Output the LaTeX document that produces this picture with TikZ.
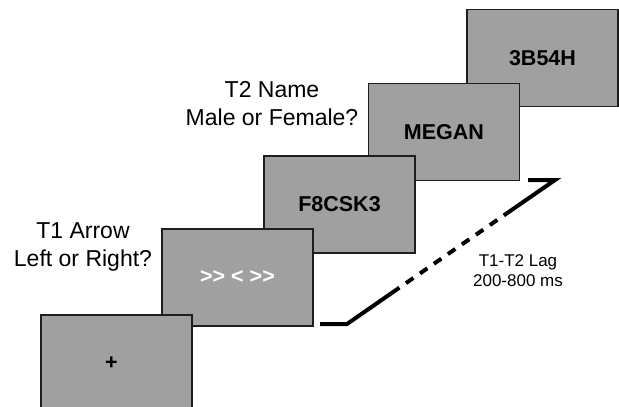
\documentclass[tikz,border=0pt]{standalone}
\usepackage{fontspec}
\setmainfont{Liberation Sans}
\definecolor{boxgray}{RGB}{160,160,160}
\definecolor{edgegray}{RGB}{30,30,30}
\tikzset{
  screen/.style={rectangle, draw=edgegray, line width=1.3pt, fill=boxgray,
    minimum width=151pt, minimum height=97pt, inner sep=0pt,
    font=\fontsize{21.5}{26}\selectfont\bfseries},
  cue/.style={align=center, inner sep=0pt, font=\fontsize{23}{28}\selectfont},
  lagtext/.style={align=center, inner sep=0pt, font=\fontsize{17}{20}\selectfont},
  lagline/.style={line width=4pt, black},
}
\begin{document}
\begin{tikzpicture}[x=1pt,y=-1pt]
\useasboundingbox (0,0) rectangle (619,407);
\clip (0,0) rectangle (619,407);
% screens, later ones behind earlier ones
\node[screen] (s5) at (542.5,58) {3B54H};
\node[screen] (s4) at (444,132) {MEGAN};
\node[screen] (s3) at (339.5,204.5) {F8CSK3};
\node[screen, text=white] (s2) at (237.5,277.5) {>{}> < >{}>};
\node[screen] (s1) at (116.5,363.5) {\kern-10pt+};
% labels
\node[cue] (t1) at (83,247) {T1 Arrow\\Left or Right?};
\node[cue] (t2) at (272,104) {T2 Name\\Male or Female?};
\node[lagtext] (lag) at (518,271) {T1-T2 Lag\\200-800 ms};
% lag line
\coordinate (l0) at (320,324);
\coordinate (l1) at (347,324);
\coordinate (l2) at (392,292.8);
\coordinate (l3) at (507,213.2);
\coordinate (l4) at (555,180);
\coordinate (l5) at (528,180);
\draw[lagline] (l0) -- (l1) -- (l2);
\draw[lagline, dash pattern=on 9pt off 8pt] (l2) -- (l3);
\draw[lagline] (l3) -- (l4) -- (l5);
\end{tikzpicture}
\end{document}
